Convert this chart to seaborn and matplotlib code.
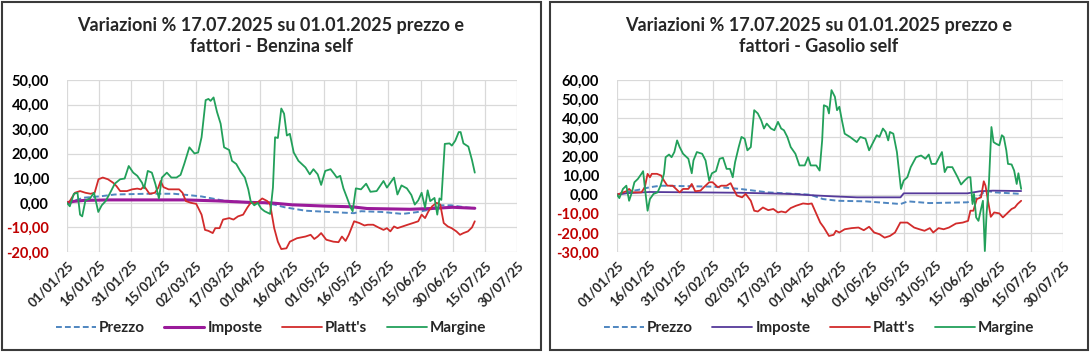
import numpy as np
import pandas as pd
import seaborn as sns
import matplotlib.pyplot as plt
import matplotlib.dates as mdates
from matplotlib.patches import Rectangle
from matplotlib.ticker import FuncFormatter, MultipleLocator

# ---- dati: giorni dal 01/01/2025 e variazioni % ----
inizio = pd.Timestamp('2025-01-01')

# Benzina self
benz_prezzo_gg = [0, 7.8, 15.9, 22.3, 36.9, 49.8, 56.3, 62.8, 72.5, 82.2, 91.9, 96.7, 101.6, 111.3,
                  124.3, 134, 137.2, 146.9, 156.6, 163.1, 169.6, 173.6, 179.3, 185.7, 190.3]
benz_prezzo = [0, 2.1, 2.7, 3.4, 3.7, 3.7, 3.2, 2.6, 1.0, 0.3, 0.0, -0.7, -1.8, -3.2,
               -3.8, -4.2, -3.4, -3.7, -4.5, -3.8, -2.7, -1.0, -1.0, -1.8, -2.2]

benz_imposte_gg = [0, 3, 8, 20, 55, 70, 85, 95, 105, 120, 133, 140, 160, 170, 180, 190.3]
benz_imposte = [0, 0.6, 1.0, 1.2, 1.2, 0.8, 0.2, 0.0, -0.8, -1.3, -1.6, -2.3, -2.6, -2.3, -1.8, -2.2]

benz_platts_gg = [0, 1.3, 3.7, 6.1, 8.6, 11, 12.9, 14.7, 16.7, 19.1, 21.5, 23.1, 24.8, 28, 30.4, 32.8,
                  34.5, 36, 38.5, 41, 42.6, 43.7, 45, 47.4, 49.8, 52.3, 53.9, 55.5, 57.9, 60.3, 62.8,
                  64.4, 66, 68, 69.2, 71.2, 72.8, 75.7, 77.7, 79.8, 82.2, 84.1, 85.7, 88.7, 91.1,
                  93.5, 94.8, 96.7, 98.4, 100, 102.4, 104, 107.3, 111.3, 113.7, 115.4, 117, 118.6,
                  121, 124.3, 126.7, 128.3, 130, 131.5, 134, 136.4, 138.8, 140.4, 142.9, 145.3,
                  147.7, 149.3, 150.9, 152.6, 154.2, 156.6, 159, 161.5, 163.9, 165.5, 167.1, 168.7,
                  170.4, 172.5, 174.2, 175.8, 177.7, 179.5, 181.7, 183.4, 185, 187.1, 189, 190.3]
benz_platts = [0, 0.7, 4.1, 4.8, 4.1, 3.7, 4.1, 9.6, 10.3, 9.6, 8.2, 6.8, 4.8, 4.8, 5.5, 5.8,
               5.5, 6.8, 3.7, 4.1, 6.2, 8.9, 6.4, 5.5, 5.5, 5.5, 4.1, 0.7, 0.0, -0.4, -4.8,
               -11.0, -11.4, -12.3, -10.3, -10.3, -6.8, -6.2, -6.8, -5.5, -4.8, -2.0, 0.0, 0.0, 1.8,
               0.7, -0.7, -10.3, -15.8, -18.8, -18.5, -15.8, -14.4, -13.7, -13.0, -14.7, -13.7, -12.3,
               -15.0, -15.8, -16.0, -13.7, -15.5, -13.0, -7.5, -8.2, -9.2, -8.9, -8.9, -10.0,
               -11.0, -10.3, -11.6, -9.6, -10.3, -9.6, -8.9, -8.2, -7.5, -4.8, -6.2, -3.4,
               -1.4, 0.0, -0.7, -8.2, -9.6, -10.3, -11.6, -13.0, -12.3, -11.6, -10.0, -7.5]

benz_margine_gg = [0, 1.3, 3.2, 4.9, 6.1, 7.1, 8.6, 10.7, 12.6, 14.6, 16.2, 18, 19.9, 22.3, 24.8,
                   26.9, 28.8, 30.9, 32.8, 35, 36, 37.7, 39.6, 41.3, 42.9, 44.3, 46.6, 48.7, 51.1,
                   53, 54.7, 57.1, 59.5, 61.2, 62.8, 64.7, 66, 67, 68.4, 70, 71.7, 73.3, 75.7, 77,
                   79, 81, 83, 84.6, 85.7, 87.4, 89, 90.6, 92.2, 94.8, 96.1, 97.1, 98.4, 100, 101.3,
                   102.6, 104, 105.8, 108, 111.3, 113.3, 115, 117, 118.6, 120.5, 123, 124.6, 125.9,
                   127.5, 129, 130.7, 132.3, 133.3, 134.8, 137.2, 139.6, 141.6, 144.5, 147.7, 149.3,
                   152.6, 154.2, 156.1, 158.6, 160.7, 162.3, 163.9, 165.5, 167.1, 168.3, 169.5,
                   171.5, 172.8, 173.8, 174.7, 176.3, 178.5, 179.6, 181.2, 182.8, 183.7, 185, 187.3,
                   189, 190.3]
benz_margine = [0, -1.4, 3.7, 4.1, -4.8, -5.5, 1.0, 1.8, 4.1, -3.7, -1.0, 0.7, 3.7, 7.8, 9.6,
                9.9, 15.0, 12.3, 11.0, 8.2, 5.9, 13.0, 12.3, 7.5, 1.8, 10.3, 12.3, 10.3, 10.3,
                11.4, 15.8, 22.6, 20.1, 20.5, 26.7, 41.8, 42.3, 41.5, 42.9, 37.0, 32.2, 22.6, 21.5, 17.1,
                15.8, 12.7, 10.3, 5.5, 0.7, -1.0, 0.0, -2.3, -3.4, -4.5, 6.2, 26.7, 26.4, 38.4, 36.3,
                27.4, 28.1, 20.5, 17.1, 14.4, 11.6, 13.7, 11.6, 7.3, 13.0, 13.7, 11.9, 10.3,
                11.0, 5.9, 2.0, -1.8, -3.4, 5.9, 5.5, 7.8, 4.5, 4.8, 8.9, 6.2,
                10.3, 3.4, 7.1, 5.9, 3.2, -0.7, 1.0, 4.1, -2.0, 5.1, 0.7,
                2.0, -4.8, 1.8, 1.2, 24.0, 24.2, 23.3, 25.3, 28.8, 28.8, 24.2, 22.9,
                17.4, 12.3]

# Gasolio self
gas_prezzo_gg = [0, 5, 10, 15.5, 20.5, 45, 58, 71, 91, 97, 104, 117, 130, 133.5, 137, 147, 165,
                 170, 173.5, 178, 190.3]
gas_prezzo = [0, 1.5, 2.5, 3.9, 4.7, 4.2, 3.0, 1.2, 0.0, -2.3, -3.2, -3.5, -4.6, -4.9, -3.5, -4.4,
              -4.0, -1.4, 2.1, 1.2, 0.4]

gas_imposte_gg = [0, 5, 15.5, 58, 81, 95, 102, 113, 133.5, 135, 165, 171, 177, 190.3]
gas_imposte = [0, 0.8, 1.4, 1.0, 0.4, -0.5, -0.9, -1.4, -1.4, 0.7, 0.7, 1.8, 2.1, 1.9]

gas_platts_gg = [0, 4.4, 5.7, 7.4, 9.3, 11.5, 13.1, 14.4, 15.5, 16.4, 18.8, 20.8, 22.1, 23.7, 26.2,
                 27.8, 29.5, 31.1, 33.6, 35.2, 36.8, 39.3, 40.9, 43.4, 45, 47.5, 49.1, 51.6, 53.5,
                 54.8, 56.5, 58.9, 60.6, 63, 64.6, 66.3, 68.7, 71.2, 73.6, 75.8, 77.4, 79.4, 81.8,
                 84.3, 87.6, 90, 91.7, 95.7, 97.4, 99.8, 102, 103.1, 104.7, 107.2, 110.5, 113.7,
                 116.2, 118.7, 121.1, 123.6, 126, 128.5, 130.9, 133.4, 136.7, 139.9, 142.4, 144.8,
                 147.3, 148.9, 151.4, 153.8, 156.3, 159.6, 162.8, 165.3, 166.4, 167.8, 169.4,
                 171.4, 172.7, 173.5, 174.7, 176, 177.6, 180, 181.7, 183.3, 185.8, 187.3, 188.6, 190.3]
gas_platts = [0, 1.8, 3.0, 1.2, 1.2, 1.2, 3.9, 10.9, 9.1, 10.9, 10.9, 10.0, 7.4, 4.7, 4.7,
              3.0, 1.2, 3.0, 3.0, 5.6, 1.8, 2.1, 3.9, 6.5, 6.5, 3.9, 4.7, 4.7, 6.0,
              3.0, -0.5, -1.4, 0.4, -3.2, -8.4, -8.8, -6.7, -8.1, -7.5, -9.3, -8.8, -9.3, -7.0,
              -5.8, -4.6, -4.9, -4.6, -14.6, -17.2, -21.6, -21.0, -18.9, -19.8, -18.1, -17.5, -17.2,
              -18.6, -16.8, -19.8, -20.7, -22.5, -21.6, -19.8, -14.6, -14.6, -17.2, -18.1, -18.9,
              -17.5, -19.8, -17.5, -18.1, -17.2, -15.1, -14.6, -13.7, -8.4, -8.4, -2.3,
              -1.4, 7.0, 4.7, -3.2, -11.6, -9.3, -9.8, -11.9, -10.2, -7.5, -6.7, -4.9, -3.2]

gas_margine_gg = [0, 1.1, 2.8, 4.4, 5.7, 7, 8.2, 9.8, 11.5, 12.3, 13.1, 14.4, 15.5, 17.2, 19.1,
                  20.5, 22.1, 22.9, 24.5, 25.7, 27, 28.3, 29.5, 31.1, 33.6, 35.2, 36, 37.6, 40.1,
                  41.7, 43.4, 44.7, 46.6, 48.3, 49.9, 51.6, 53.2, 54.5, 55.6, 57.3, 58.6, 60.1,
                  61.4, 63, 64.6, 66.3, 67.9, 69.2, 70.5, 72.5, 74.1, 75.8, 77.3, 78.6, 80.2, 81.8,
                  84, 85.9, 88.4, 90, 91.2, 93.8, 95.4, 96.6, 97.4, 99, 99.8, 101, 102.6, 103.6,
                  104.7, 105.9, 107.2, 109.7, 112.9, 114.6, 117, 118.7, 120.3, 122.3, 123.6, 125.2,
                  126.5, 127.7, 128.5, 130.1, 131.8, 133.7, 135, 136.7, 138.3, 140.8, 143.2, 145.2,
                  146.8, 148.1, 150.1, 151.7, 153, 154.3, 155.5, 157.9, 160.4, 162, 163.7, 165.3,
                  166.4, 167.4, 168.1, 169.1, 170.2, 171.4, 172.3, 173.2, 174, 175.1, 176.3, 177.3,
                  178.4, 180, 181.2, 182.1, 183.3, 184.1, 185.8, 187, 188.2, 189, 190.3]
gas_margine = [0, -1.8, 3.0, 4.7, -3.2, 1.2, 6.5, 8.2, 10.9, 12.3, 3.9, -8.4, -2.3, 0.4, 1.2,
               4.7, 10.9, 19.6, 21.0, 19.6, 22.3, 28.4, 24.9, 21.4, 18.8, 11.2, 17.9, 22.3, 21.4,
               17.9, 7.4, 11.2, 12.3, 18.8, 19.3, 13.5, 13.5, 9.1, 17.0, 24.9, 30.2, 29.3,
               23.2, 24.9, 44.2, 42.5, 38.9, 34.6, 37.2, 34.6, 33.7, 38.1, 34.6, 33.7, 30.2, 24.9,
               21.4, 15.3, 15.3, 19.6, 15.3, 15.3, 12.6, 28.4, 46.8, 46.0, 42.5, 54.7, 51.2, 44.2,
               46.0, 38.9, 31.9, 30.2, 27.5, 30.2, 29.3, 23.2, 26.7, 31.1, 30.2, 34.6,
               32.8, 28.4, 32.8, 31.9, 22.3, 3.0, 7.4, 9.1, 14.4, 19.6, 20.5, 18.8,
               21.0, 16.1, 16.1, 19.6, 22.3, 11.8, 14.4, 14.4, 9.1, 5.3, 7.4, 9.1,
               9.1, -4.9, 0.4, -11.9, -13.7, -7.5, -3.2, -29.5, -10.2, 5.6, 35.4, 27.5,
               26.7, 25.8, 31.1, 30.2, 23.2, 16.1, 15.8, 12.6, 5.6, 11.2, 3.0]

serie_nomi = ['Prezzo', 'Imposte', "Platt's", 'Margine']

# ---- stile ----
sns.set_style('white')
plt.rcParams['font.family'] = ['Lato', 'DejaVu Sans']
plt.rcParams['font.weight'] = 'bold'
plt.rcParams['ytick.major.pad'] = 13
plt.rcParams['ytick.major.size'] = 0
plt.rcParams['xtick.major.pad'] = 5
plt.rcParams['xtick.major.size'] = 0

col_prezzo = '#4F86C0'
col_platts = '#D22B2B'
col_margine = '#22A05A'
rosso_neg = '#C00000'


def giorni_a_date(gg):
    return inizio + pd.to_timedelta(np.array(gg), unit='D')


def fmt_y(v, pos):
    return f'{v:.2f}'.replace('.', ',')


def disegna(ax, dati, col_imposte, lw_imposte, ymin, ymax):
    (pg, pv), (ig, iv), (plg, plv), (mg, mv) = dati
    sns.lineplot(x=giorni_a_date(pg), y=pv, ax=ax, color=col_prezzo, linewidth=1.4,
                 linestyle=(0, (3, 1.6)), label=serie_nomi[0], estimator=None)
    sns.lineplot(x=giorni_a_date(ig), y=iv, ax=ax, color=col_imposte, linewidth=lw_imposte,
                 label=serie_nomi[1], estimator=None)
    sns.lineplot(x=giorni_a_date(plg), y=plv, ax=ax, color=col_platts, linewidth=1.3,
                 label=serie_nomi[2], estimator=None)
    sns.lineplot(x=giorni_a_date(mg), y=mv, ax=ax, color=col_margine, linewidth=1.3,
                 label=serie_nomi[3], estimator=None)

    ax.set_xlim(inizio, pd.Timestamp('2025-07-30'))
    ax.set_ylim(ymin, ymax)
    ax.set_xticks(pd.date_range(inizio, periods=15, freq='15D'))
    ax.xaxis.set_major_formatter(mdates.DateFormatter('%d/%m/%y'))
    ax.yaxis.set_major_locator(MultipleLocator(10))
    ax.yaxis.set_major_formatter(FuncFormatter(fmt_y))
    ax.grid(True, color='#D9D9D9', linewidth=0.9)
    for s in ax.spines.values():
        s.set_visible(False)
    ax.set_xlabel('')
    ax.set_ylabel('')
    ax.tick_params(axis='y', labelsize=10.5)
    ax.tick_params(axis='x', labelsize=9.5)
    for lab in ax.get_xticklabels():
        lab.set_rotation(45)
        lab.set_ha('right')
        lab.set_rotation_mode('anchor')
        lab.set_fontweight('bold')
    for v, lab in zip(ax.get_yticks(), ax.get_yticklabels()):
        lab.set_fontweight('bold')
        lab.set_color(rosso_neg if v < 0 else 'black')
    ax.get_legend().remove()


W, H = 1091, 352
fig = plt.figure(figsize=(W / 100, H / 100), dpi=100)

ax1 = fig.add_axes([67 / W, 1 - 252 / H, 450 / W, 172 / H])
ax2 = fig.add_axes([617 / W, 1 - 252 / H, 446 / W, 172 / H])

disegna(ax1, [(benz_prezzo_gg, benz_prezzo), (benz_imposte_gg, benz_imposte),
              (benz_platts_gg, benz_platts), (benz_margine_gg, benz_margine)],
        '#9A1A9A', 2.2, -20, 50)
disegna(ax2, [(gas_prezzo_gg, gas_prezzo), (gas_imposte_gg, gas_imposte),
              (gas_platts_gg, gas_platts), (gas_margine_gg, gas_margine)],
        '#55399A', 1.3, -30, 60)

titoli = ['Variazioni % 17.07.2025 su 01.01.2025 prezzo e\nfattori - Benzina self',
          'Variazioni % 17.07.2025 su 01.01.2025 prezzo e\nfattori - Gasolio self']
for cx, ax, t in [(271, ax1, titoli[0]), (819, ax2, titoli[1])]:
    fig.text(cx / W, 1 - 36 / H, t, ha='center', va='center', fontsize=13,
             fontweight='bold', linespacing=1.35)
    h, l = ax.get_legend_handles_labels()
    fig.legend(h, l, loc='center', bbox_to_anchor=(cx / W, 1 - 328 / H), ncol=4,
               frameon=False, handlelength=2.6, handletextpad=0.2, columnspacing=1.3,
               prop={'weight': 'bold', 'size': 11})

# cornici dei due riquadri
for x0, x1 in [(2, 541), (550, 1088)]:
    fig.patches.append(Rectangle((x0 / W, 2 / H), (x1 - x0) / W, (H - 4) / H,
                                 transform=fig.transFigure, fill=False,
                                 edgecolor='#3A3A3A', linewidth=1.5))

fig.savefig('out.png', dpi=100)
